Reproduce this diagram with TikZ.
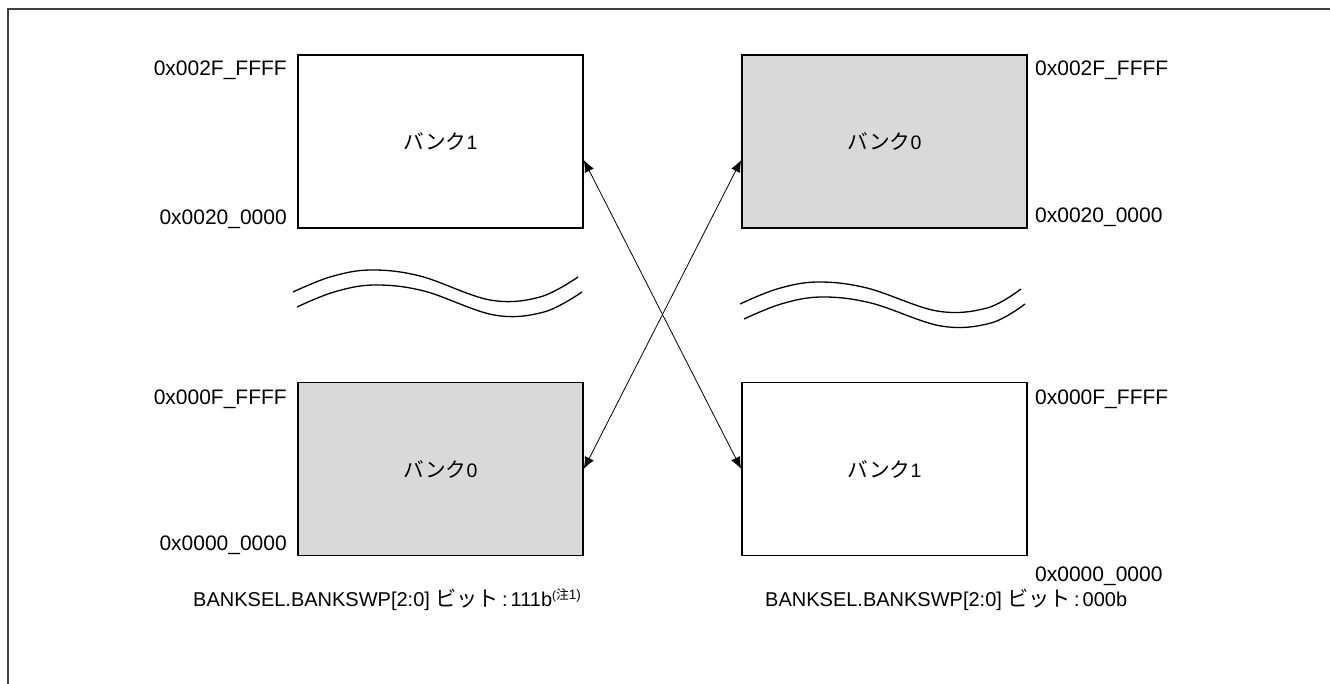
\documentclass[tikz,border=0pt]{standalone}
\usepackage{fontspec}
\setmainfont{Liberation Sans}
\newfontfamily\jp[Scale=1.06]{Noto Sans CJK JP}
\usetikzlibrary{arrows.meta}
\definecolor{framecol}{HTML}{404040}
\definecolor{bankgray}{HTML}{D9D9D9}
\newcommand{\bitcolon}{\kern3pt:\kern3pt}
\tikzset{
  bank/.style={draw=black, line width=1.6pt, minimum width=285pt, minimum height=173pt, inner sep=0pt,
    font=\fontsize{19.5}{22}\selectfont},
  graybank/.style={bank, fill=bankgray},
  addr/.style={inner sep=0pt, font=\fontsize{21}{24}\selectfont},
  caption/.style={inner sep=0pt, anchor=west, font=\fontsize{20}{23}\selectfont},
  wave/.style={line width=1.3pt, line join=round},
  swap/.style={line width=0.8pt, {Latex[length=12pt,width=10pt]}-{Latex[length=12pt,width=10pt]}},
}
\begin{document}
\begin{tikzpicture}[x=1pt, y=-1pt]
\useasboundingbox (0,0) rectangle (1330,684);
\draw[framecol, line width=2pt] (8,684) -- (8,9) -- (1330,9);

% boxes
\node[bank]     (lt) at (440.5,141.5) {{\jp バンク}1};
\node[graybank] (lb) at (440.5,469)   {{\jp バンク}0};
\node[graybank] (rt) at (884.5,141.5) {{\jp バンク}0};
\node[bank]     (rb) at (884.5,469)   {{\jp バンク}1};

% address labels
\node[addr, anchor=east] (la1) at (287,70)  {0x002F\_FFFF};
\node[addr, anchor=east] (la2) at (287,219) {0x0020\_0000};
\node[addr, anchor=east] (la3) at (287,399) {0x000F\_FFFF};
\node[addr, anchor=east] (la4) at (287,545) {0x0000\_0000};
\node[addr, anchor=west] (ra1) at (1035,70)  {0x002F\_FFFF};
\node[addr, anchor=west] (ra2) at (1035,217) {0x0020\_0000};
\node[addr, anchor=west] (ra3) at (1035,399) {0x000F\_FFFF};
\node[addr, anchor=west] (ra4) at (1035,576) {0x0000\_0000};

% wavy breaks
\draw[wave] plot[smooth, tension=0.6] coordinates {(293,292) (330,277) (370,270) (420,276) (490,300) (540,297) (578,277)};
\draw[wave] plot[smooth, tension=0.6] coordinates {(297,307) (334,292) (374,285) (424,291) (494,315) (544,312) (582,292)};
\draw[wave] plot[smooth, tension=0.6] coordinates {(740,304) (777,289) (817,282) (867,288) (937,311) (987,308) (1021,289)};
\draw[wave] plot[smooth, tension=0.6] coordinates {(744,319) (781,304) (821,297) (871,303) (941,326) (991,323) (1025,304)};

% swap arrows
\draw[swap] ([yshift=-18.5pt]lt.east) -- (rb.west);
\draw[swap] (lb.east) -- ([yshift=-18.5pt]rt.west);

% captions
\node[caption] (lc) at (193,600) {BANKSEL.BANKSWP[2:0] {\jp ビット}\bitcolon 111b\raisebox{7pt}{\fontsize{12}{13}\selectfont({\jp 注}\fontsize{13.5}{14}\selectfont 1)}};
\node[caption] (rc) at (765,600) {BANKSEL.BANKSWP[2:0] {\jp ビット}\bitcolon 000b};
\end{tikzpicture}
\end{document}
